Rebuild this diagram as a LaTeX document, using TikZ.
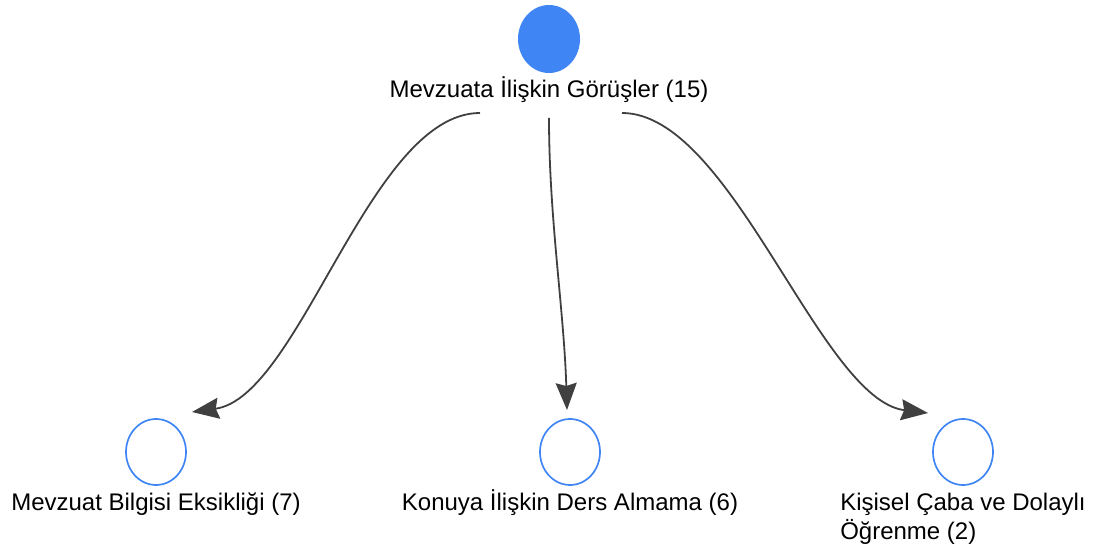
\documentclass[tikz,border=0pt]{standalone}
\usepackage{fontspec}
\setmainfont{Liberation Sans}
\usetikzlibrary{arrows.meta,positioning,shapes.geometric}

\definecolor{kodmavi}{HTML}{3F85F4}
\definecolor{okgri}{HTML}{404040}

\begin{document}
\begin{tikzpicture}[x=1pt,y=-1pt,
    font=\fontsize{24pt}{29pt}\selectfont,
    ana/.style={ellipse,fill=kodmavi,draw=none,minimum width=62pt,minimum height=68pt,inner sep=0pt},
    alt/.style={ellipse,draw=kodmavi,line width=1.7pt,fill=white,minimum width=60pt,minimum height=66pt,inner sep=0pt},
    yazi/.style={inner sep=1pt,align=left,anchor=base},
    ok/.style={draw=okgri,line width=1.8pt,-{Stealth[length=27pt,width=21pt,inset=3pt]}}]
  \useasboundingbox (0,0) rectangle (1100,553);

  % ana kod
  \node[ana] (gorus) at (549,39) {};
  \node[yazi] (gorusyazi) at ([yshift=-59pt]gorus.center) {Mevzuata İlişkin Görüşler (15)};

  % alt kodlar
  \node[alt] (eksik) at (156,452) {};
  \node[yazi] (eksikyazi) at ([yshift=-58pt]eksik.center) {Mevzuat Bilgisi Eksikliği (7)};
  \node[alt] (ders) at (570,452) {};
  \node[yazi] (dersyazi) at ([yshift=-58pt]ders.center) {Konuya İlişkin Ders Almama (6)};
  \node[alt] (caba) at (963,452) {};
  % iki satirli: base son satirda
  \node[yazi] (cabayazi) at ([yshift=-87pt]caba.center) {Kişisel Çaba ve Dolaylı\\Öğrenme (2)};

  % baglantilar
  \draw[ok] ([xshift=-69pt,yshift=-15pt]gorusyazi.base) .. controls +(-110,0) and +(108,-15) .. ([xshift=36pt,yshift=40pt]eksik.center);
  \draw[ok] ([yshift=-20pt]gorusyazi.base) .. controls +(0,100) and +(-3,-100) .. ([xshift=-3pt,yshift=42pt]ders.center);
  \draw[ok] ([xshift=73pt,yshift=-15pt]gorusyazi.base) .. controls +(110,0) and +(-108,-13) .. ([xshift=-35pt,yshift=39pt]caba.center);
\end{tikzpicture}
\end{document}
